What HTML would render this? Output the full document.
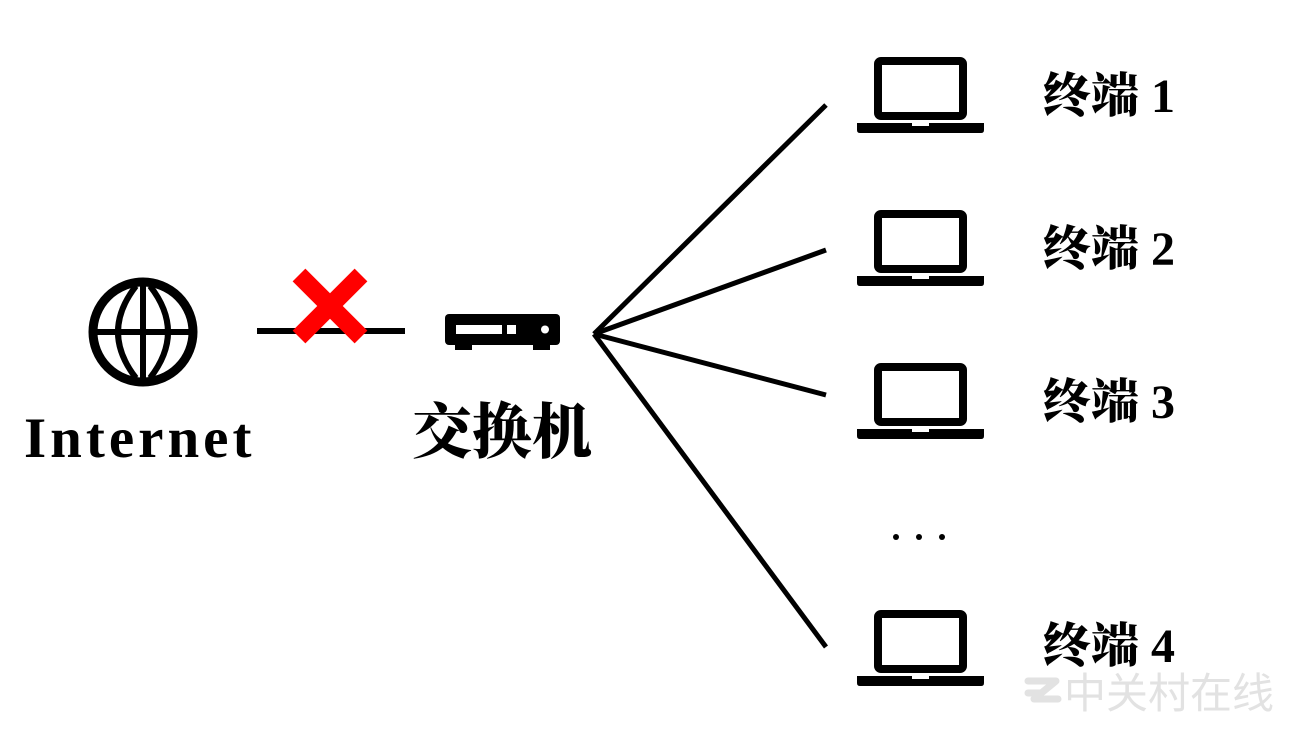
<!DOCTYPE html>
<html><head><meta charset="utf-8"><style>
body{margin:0;background:#fff;width:1296px;height:730px;overflow:hidden;position:relative}
.t{position:absolute;font-family:"Liberation Serif","Noto Serif CJK SC",serif;font-weight:900;color:#000;white-space:nowrap;line-height:1}
</style></head><body>
<svg width="1296" height="730" style="position:absolute;left:0;top:0">
<g fill="none" stroke="#000">
<circle cx="143" cy="332" r="50" stroke-width="9"/>
<line x1="93" y1="332" x2="193" y2="332" stroke-width="6"/>
<line x1="143" y1="282" x2="143" y2="382" stroke-width="6"/>
<path d="M136 286 Q100 332 136 378 M150 286 Q186 332 150 378" stroke-width="6"/>
<line x1="257" y1="331" x2="405" y2="331" stroke-width="6"/>
<g stroke-width="5">
<line x1="594" y1="334" x2="826" y2="105"/>
<line x1="594" y1="334" x2="826" y2="250"/>
<line x1="594" y1="334" x2="826" y2="395"/>
<line x1="594" y1="334" x2="826" y2="647"/>
</g>
</g>
<g stroke="#f00" stroke-width="18">
<line x1="299" y1="275" x2="361" y2="337"/>
<line x1="361" y1="275" x2="299" y2="337"/>
</g>
<rect x="445" y="314" width="115" height="31" rx="4" fill="#000"/>
<rect x="456" y="325" width="46" height="9" fill="#fff"/>
<rect x="507" y="325" width="9" height="9" fill="#fff"/>
<circle cx="545" cy="329.5" r="4" fill="#fff"/>
<rect x="455" y="342" width="17" height="8" fill="#000"/>
<rect x="533" y="342" width="17" height="8" fill="#000"/>
<g id="lap">
<rect x="878" y="61" width="85" height="55" rx="3" fill="none" stroke="#000" stroke-width="8"/>
<path d="M857 123 H984 V130 Q984 133 981 133 H860 Q857 133 857 130 Z" fill="#000"/>
<rect x="912" y="123" width="17" height="3" fill="#fff"/>
</g>
<use href="#lap" y="153"/>
<use href="#lap" y="306"/>
<use href="#lap" y="553"/>
<g fill="#000"><circle cx="896" cy="537" r="3"/><circle cx="919" cy="537" r="3"/><circle cx="942" cy="537" r="3"/></g>
<path d="M1028 681 H1056 L1034 699 H1058 M1028 693 H1040" fill="none" stroke="#e2e2e2" stroke-width="7" stroke-linecap="round" stroke-linejoin="round"/>
</svg>
<div class="t" style="left:24px;top:410px;font-size:57px;letter-spacing:4px">Internet</div>
<div class="t" style="left:412px;top:403px;font-size:60px">交换机</div>
<div class="t" style="left:1043px;top:73px;font-size:48px">终端 1</div>
<div class="t" style="left:1043px;top:226px;font-size:48px">终端 2</div>
<div class="t" style="left:1043px;top:379px;font-size:48px">终端 3</div>
<div class="t" style="left:1043px;top:623px;font-size:48px">终端 4</div>
<div class="t" style="left:1064px;top:673px;font-size:42px;color:#e2e2e2;font-weight:normal;font-family:'Liberation Sans','Noto Sans CJK SC',sans-serif">中关村在线</div>
</body></html>
